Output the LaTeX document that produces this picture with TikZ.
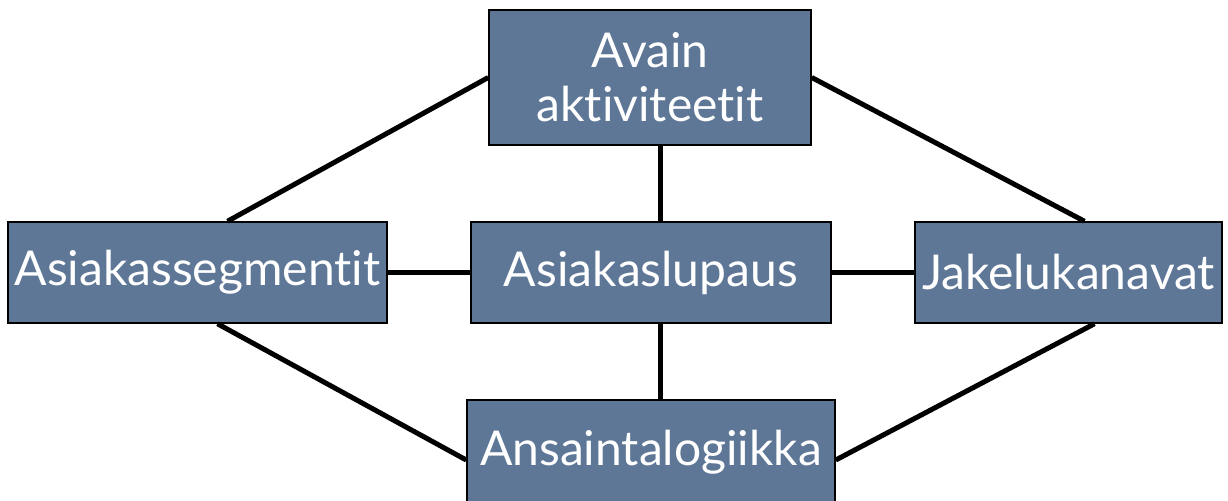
\documentclass[tikz,border=0pt]{standalone}
\usepackage{fontspec}
\setmainfont{Lato}[Ligatures=NoCommon]
\definecolor{slate}{HTML}{5E7797}
\begin{document}
\begin{tikzpicture}[x=0.5pt, y=-0.5pt,
    box/.style={draw=black, line width=0.75pt, fill=slate, text=white,
                font=\fontsize{24}{27}\selectfont, align=center,
                inner sep=0pt, minimum height=50.5pt},
    link/.style={line width=2.5pt, black}]
    % Canvas
    \useasboundingbox (0,0) rectangle (1228,500);

    % Boxes
    \node (avain) at (650, 77.5) [box, minimum width=161pt, minimum height=67.5pt] {Avain\\aktiviteetit};
    \node (seg) at (197.5, 272.5) [box, minimum width=189.5pt] {Asiakassegmentit};
    \node (lupaus) at (651, 272.5) [box, minimum width=180pt] {Asiakaslupaus};
    \node (jakelu) at (1068.5, 272.5) [box, minimum width=153.5pt] {Jakelukanavat};
    \node (ansainta) at (651, 452) [box, minimum width=184pt, minimum height=52pt] {Ansaintalogiikka};

    % Connections
    \draw[link] (avain.west) -- ([xshift=15pt]seg.north);
    \draw[link] (avain.east) -- ([xshift=8pt]jakelu.north);
    \draw[link] ([xshift=5pt]avain.south) -- ([xshift=5pt]avain.south |- lupaus.north);
    \draw[link] (seg.east) -- (lupaus.west);
    \draw[link] (lupaus.east) -- (jakelu.west);
    \draw[link] ([xshift=4.5pt]lupaus.south) -- ([xshift=4.5pt]lupaus.south |- ansainta.north);
    \draw[link] ([xshift=10pt]seg.south) -- ([yshift=-4pt]ansainta.west);
    \draw[link] ([xshift=13pt]jakelu.south) -- ([yshift=-4pt]ansainta.east);
\end{tikzpicture}
\end{document}
